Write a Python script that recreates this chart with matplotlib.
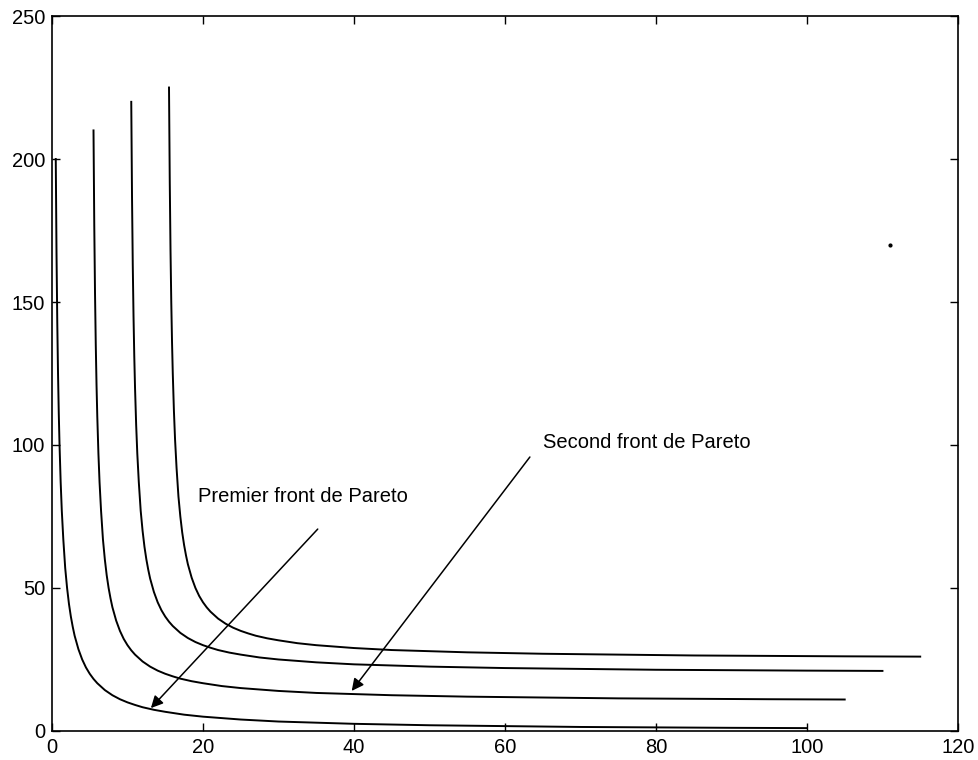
import matplotlib
matplotlib.use("Agg")
import matplotlib.pyplot as plt

plt.rcParams['font.family'] = ['Liberation Sans', 'DejaVu Sans']

# four nested Pareto fronts, (f1, f2) points along each curve
front1_x = [0.5, 0.6, 0.7, 0.8, 0.9, 1.0, 1.15, 1.3, 1.5, 1.75, 2.0, 2.25, 2.5, 2.75, 3.0, 3.5, 4.0, 4.5, 5.0, 5.5, 6.0, 7.0, 8.0, 9.0, 10, 11, 12, 13.5, 15, 17.5, 20, 25, 30, 40, 50, 60, 70, 80, 90, 100]
front1_y = [200, 167, 143, 125, 111, 100, 87, 77, 67, 57, 50, 44.4, 40, 36.4, 33.3, 28.6, 25, 22.2, 20, 18.2, 16.7, 14.3, 12.5, 11.1, 10, 9.1, 8.3, 7.4, 6.7, 5.7, 5.0, 4.0, 3.3, 2.5, 2.0, 1.7, 1.4, 1.25, 1.1, 1.0]

front2_x = [5.5, 5.6, 5.7, 5.8, 5.9, 6.0, 6.15, 6.3, 6.5, 6.75, 7.0, 7.25, 7.5, 7.75, 8.0, 8.5, 9.0, 9.5, 10, 10.5, 11, 12, 13, 14, 15, 16, 17, 18.5, 20, 22.5, 25, 30, 35, 45, 55, 65, 75, 85, 95, 105]
front2_y = [210, 177, 153, 135, 121, 110, 97, 87, 77, 67, 60, 54.4, 50, 46.4, 43.3, 38.6, 35, 32.2, 30, 28.2, 26.7, 24.3, 22.5, 21.1, 20, 19.1, 18.3, 17.4, 16.7, 15.7, 15.0, 14.0, 13.3, 12.5, 12.0, 11.7, 11.4, 11.25, 11.1, 11.0]

front3_x = [10.5, 10.6, 10.7, 10.8, 10.9, 11.0, 11.15, 11.3, 11.5, 11.75, 12.0, 12.25, 12.5, 12.75, 13.0, 13.5, 14.0, 14.5, 15, 15.5, 16, 17, 18, 19, 20, 21, 22, 23.5, 25, 27.5, 30, 35, 40, 50, 60, 70, 80, 90, 100, 110]
front3_y = [220, 187, 163, 145, 131, 120, 107, 97, 87, 77, 70, 64.4, 60, 56.4, 53.3, 48.6, 45, 42.2, 40, 38.2, 36.7, 34.3, 32.5, 31.1, 30, 29.1, 28.3, 27.4, 26.7, 25.7, 25.0, 24.0, 23.3, 22.5, 22.0, 21.7, 21.4, 21.25, 21.1, 21.0]

front4_x = [15.5, 15.6, 15.7, 15.8, 15.9, 16.0, 16.15, 16.3, 16.5, 16.75, 17.0, 17.25, 17.5, 17.75, 18.0, 18.5, 19.0, 19.5, 20, 20.5, 21, 22, 23, 24, 25, 26, 27, 28.5, 30, 32.5, 35, 40, 45, 55, 65, 75, 85, 95, 105, 115]
front4_y = [225, 192, 168, 150, 136, 125, 112, 102, 92, 82, 75, 69.4, 65, 61.4, 58.3, 53.6, 50, 47.2, 45, 43.2, 41.7, 39.3, 37.5, 36.1, 35, 34.1, 33.3, 32.4, 31.7, 30.7, 30.0, 29.0, 28.3, 27.5, 27.0, 26.7, 26.4, 26.25, 26.1, 26.0]

stray_point = (111, 170)

x_ticks = [0, 20, 40, 60, 80, 100, 120]
y_ticks = [0, 50, 100, 150, 200, 250]

fig = plt.figure(figsize=(9.79, 7.6), dpi=100)
ax = fig.add_axes([0.0531, 0.0382, 0.9254, 0.9407])

for fx, fy in [(front1_x, front1_y), (front2_x, front2_y),
               (front3_x, front3_y), (front4_x, front4_y)]:
    ax.plot(fx, fy, color='black', linewidth=1.4)

ax.plot(*stray_point, marker='.', color='black', markersize=4)

arrow = dict(arrowstyle='-|>', color='black', lw=1.1, mutation_scale=18,
             shrinkA=0, shrinkB=0)
ax.annotate('', xy=(13.1, 8.0), xytext=(35.2, 70.6), arrowprops=arrow)
ax.annotate('', xy=(39.7, 14.0), xytext=(63.3, 95.8), arrowprops=arrow)

ax.text(19.3, 82, 'Premier front de Pareto', fontsize=14.5, va='center', ha='left')
ax.text(65.0, 101, 'Second front de Pareto', fontsize=14.5, va='center', ha='left')

ax.set_xlim(0, 120)
ax.set_ylim(0, 250)
ax.set_xticks(x_ticks)
ax.set_yticks(y_ticks)
ax.tick_params(direction='in', top=True, right=True, length=6, width=1,
               labelsize=14.5, pad=5)
for s in ax.spines.values():
    s.set_linewidth(1.2)

fig.savefig('out.png', dpi=100)
